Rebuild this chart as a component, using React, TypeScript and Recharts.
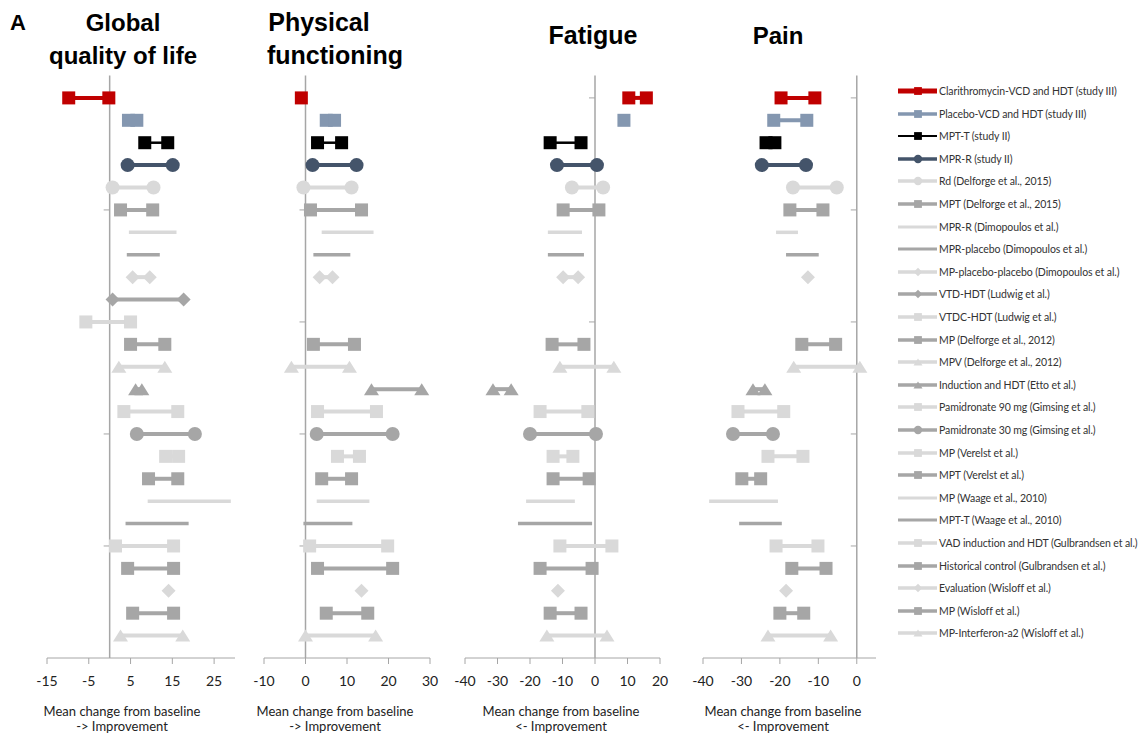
import React from 'react'
import { ScatterChart, Scatter, XAxis, YAxis, ReferenceLine } from 'recharts'

type Range = number[] | null
type Kind = 'square' | 'circle' | 'diamond' | 'triangle' | 'none'

const studies = [
  'Clarithromycin-VCD and HDT (study III)',
  'Placebo-VCD and HDT (study III)',
  'MPT-T (study II)',
  'MPR-R (study II)',
  'Rd (Delforge et al., 2015)',
  'MPT (Delforge et al., 2015)',
  'MPR-R (Dimopoulos et al.)',
  'MPR-placebo (Dimopoulos et al.)',
  'MP-placebo-placebo (Dimopoulos et al.)',
  'VTD-HDT (Ludwig et al.)',
  'VTDC-HDT (Ludwig et al.)',
  'MP (Delforge et al., 2012)',
  'MPV (Delforge et al., 2012)',
  'Induction and HDT (Etto et al.)',
  'Pamidronate 90 mg (Gimsing et al.)',
  'Pamidronate 30 mg (Gimsing et al.)',
  'MP (Verelst et al.)',
  'MPT (Verelst et al.)',
  'MP (Waage et al., 2010)',
  'MPT-T (Waage et al., 2010)',
  'VAD induction and HDT (Gulbrandsen et al.)',
  'Historical control (Gulbrandsen et al.)',
  'Evaluation (Wisloff et al.)',
  'MP (Wisloff et al.)',
  'MP-Interferon-a2 (Wisloff et al.)',
]

// mean change from baseline at start / end of each study arm
const globalQoL: Range[] = [
  [-9.8, -0.2], [4.5, 6.5], [8.4, 13.9], [4.3, 15.1], [0.7, 10.5],
  [2.6, 10.3], [4.6, 16], [4.1, 12], [5.5, 9.6], [0.7, 17.7],
  [-5.7, 5], [5, 13.2], [2.2, 13.2], [6.2, 7.7], [3.4, 16.3],
  [6.5, 20.4], [13.4, 16.5], [9.3, 16.3], [9.1, 29], [3.8, 18.9],
  [1.4, 15.3], [4.3, 15.3], [14.1], [5.5, 15.3], [2.6, 17.5],
]

const physical: Range[] = [
  [-1], [5, 7], [2.9, 8.7], [1.7, 12.3], [-0.5, 11.1],
  [1.2, 13.5], [3.9, 16.4], [1.9, 10.8], [3.4, 6.5], null,
  null, [1.9, 11.8], [-3.4, 10.6], [15.9, 28], [2.9, 17.1],
  [2.7, 21], [7.7, 13], [3.9, 11.1], [2.7, 15.4], [-0.5, 11.3],
  [1, 19.8], [2.9, 21], [13.5], [5, 15], [0, 16.9],
]

const fatigue: Range[] = [
  [10.4, 15.8], [8.9], [-13.8, -4.3], [-11.7, 0.6], [-7.1, 2.5],
  [-9.8, 1.2], [-14.5, -4], [-14.5, -3.4], [-9.8, -5.2], null,
  null, [-13.2, -3.4], [-10.8, 5.8], [-31.4, -25.8], [-16.9, -2.2],
  [-20, 0.3], [-12.9, -6.8], [-12.9, -1.8], [-21.2, -6.2], [-23.7, -0.9],
  [-10.8, 5.2], [-16.9, -0.9], [-11.4], [-13.8, -4.3], [-14.8, 3.7],
]

const pain: Range[] = [
  [-19.7, -10.9], [-21.6, -13], [-23.6, -21.3], [-24.7, -13.2], [-16.6, -5.2],
  [-17.4, -8.8], [-21, -15.3], [-18.4, -9.9], [-12.7], null,
  null, [-14.3, -5.5], [-16.4, 0.8], [-27, -23.9], [-30.9, -19],
  [-32.2, -21.8], [-23.1, -14], [-29.9, -25], [-38.4, -20.5], [-30.6, -19.5],
  [-21, -10.1], [-16.9, -8], [-18.4], [-20, -13.8], [-23.1, -6.8],
]

const qolTicks = [-15, -5, 5, 15, 25]
const physicalTicks = [-10, 0, 10, 20, 30]
const fatigueTicks = [-40, -30, -20, -10, 0, 10, 20]
const painTicks = [-40, -30, -20, -10, 0]
const rowTicks = [1, 6, 11, 16, 21]

const RED = '#C00000'
const BLUE = '#8497B0'
const NAVY = '#44546A'
const LIGHT = '#D9D9D9'
const MID = '#A6A6A6'

const kinds: Kind[] = [
  'square', 'square', 'square', 'circle', 'circle', 'square', 'none', 'none',
  'diamond', 'diamond', 'square', 'square', 'triangle', 'triangle', 'square',
  'circle', 'square', 'square', 'none', 'none', 'square', 'square', 'diamond',
  'square', 'triangle',
]
const colorOf = (i: number) =>
  i === 0 ? RED : i === 1 ? BLUE : i === 2 ? '#000' : i === 3 ? NAVY : i % 2 === 0 ? LIGHT : MID
const lineWidthOf = (i: number) => (i === 2 ? 2.5 : kinds[i] === 'none' ? 3.5 : 4)

const FONT = 'Lato, "Open Sans", sans-serif'
const Y_TOP = 75.5
const Y_AXIS = 658
const CHART_H = 700
const AXIS_H = 36

function Marker({ cx, cy, kind, color, s = 1 }: { cx?: number; cy?: number; kind: Kind; color: string; s?: number }) {
  if (cx == null || cy == null || kind === 'none') return <g />
  if (kind === 'square') {
    const h = 6.5 * s
    return <rect x={cx - h} y={cy - h} width={h * 2} height={h * 2} fill={color} />
  }
  if (kind === 'circle') return <circle cx={cx} cy={cy} r={7 * s} fill={color} />
  if (kind === 'diamond') {
    const h = 7 * s
    return <polygon points={`${cx},${cy - h} ${cx + h},${cy} ${cx},${cy + h} ${cx - h},${cy}`} fill={color} />
  }
  const w = 7.5 * s
  const h = 6 * s
  return <polygon points={`${cx},${cy - h} ${cx + w},${cy + h} ${cx - w},${cy + h}`} fill={color} />
}

interface PanelProps {
  data: Range[]
  domain: [number, number]
  ticks: number[]
  left: number
  width: number
  x0: number
  x1: number
}

function Panel({ data, domain, ticks, left, width, x0, x1 }: PanelProps) {
  const unitsPerPx = (domain[1] - domain[0]) / (x1 - x0)
  const tickLen = 6 * unitsPerPx
  return (
    <div style={{ position: 'absolute', left, top: 0 }}>
      <ScatterChart
        width={width}
        height={CHART_H}
        margin={{ top: Y_TOP, bottom: CHART_H - Y_AXIS - AXIS_H, left: x0 - left, right: left + width - x1 }}
      >
        <XAxis
          type="number"
          dataKey="x"
          domain={domain}
          ticks={ticks}
          allowDataOverflow
          height={AXIS_H}
          axisLine={{ stroke: '#A6A6A6' }}
          tickLine={{ stroke: '#A6A6A6' }}
          tickSize={6}
          tickMargin={12}
          tick={{ fill: '#222', fontSize: 14, fontFamily: FONT }}
        />
        <YAxis type="number" dataKey="y" domain={[0, 26]} reversed hide />
        <ReferenceLine x={0} stroke="#A6A6A6" strokeWidth={1.5} />
        {rowTicks.map((t) => (
          <ReferenceLine
            key={t}
            segment={[{ x: -tickLen, y: t }, { x: 0, y: t }]}
            stroke="#A6A6A6"
            strokeWidth={1}
          />
        ))}
        {data.map((range, i) =>
          range ? (
            <Scatter
              key={i}
              data={range.map((v) => ({ x: v, y: i + 1 }))}
              line={{ stroke: colorOf(i), strokeWidth: lineWidthOf(i) }}
              lineType="joint"
              isAnimationActive={false}
              shape={(p: any) => <Marker cx={p.cx} cy={p.cy} kind={kinds[i]} color={colorOf(i)} />}
            />
          ) : null,
        )}
      </ScatterChart>
    </div>
  )
}

function Legend() {
  return (
    <div style={{ position: 'absolute', left: 897, top: 0 }}>
      {studies.map((name, i) => (
        <div
          key={name}
          style={{ position: 'absolute', top: 91 + i * 22.6 - 8, left: 0, height: 16, display: 'flex', alignItems: 'center', whiteSpace: 'nowrap' }}
        >
          <svg width={41} height={16}>
            <line x1={1} x2={40} y1={8} y2={8} stroke={colorOf(i)} strokeWidth={i === 0 ? 5 : lineWidthOf(i) - 0.5} />
            <Marker cx={21} cy={8} kind={kinds[i]} color={colorOf(i)} s={0.6} />
          </svg>
          <span style={{ fontFamily: FONT, fontSize: 10.5, letterSpacing: -0.1, color: '#333', marginLeft: 1 }}>{name}</span>
        </div>
      ))}
    </div>
  )
}

const titleStyle: React.CSSProperties = {
  position: 'absolute',
  fontFamily: '"Liberation Sans", Arial, sans-serif',
  fontWeight: 700,
  fontSize: 24,
  lineHeight: '33px',
  textAlign: 'center',
  color: '#000',
  whiteSpace: 'nowrap',
}

function Title({ text, cx, cy, size = 24 }: { text: string; cx: number; cy: number; size?: number }) {
  return <div style={{ ...titleStyle, fontSize: size, left: cx - 120, width: 240, top: cy - 16.5 }}>{text}</div>
}

function Caption({ cx, arrow }: { cx: number; arrow: string }) {
  return (
    <div
      style={{
        position: 'absolute', left: cx - 100, width: 200, top: 704, textAlign: 'center',
        fontFamily: FONT, fontSize: 13, lineHeight: '15px', color: '#222',
      }}
    >
      Mean change from baseline
      <br />
      {arrow} Improvement
    </div>
  )
}

export default function App() {
  return (
    <div style={{ position: 'fixed', left: 0, top: 0, width: 1144, height: 737, overflow: 'hidden', background: '#fff' }}>
      <div style={{ ...titleStyle, left: 10, top: 6, fontSize: 22 }}>A</div>
      <Title text="Global" cx={123} cy={22} />
      <Title text="quality of life" cx={123} cy={55} />
      <Title text="Physical" cx={319} cy={22} size={25} />
      <Title text="functioning" cx={335} cy={55} size={25} />
      <Title text="Fatigue" cx={593} cy={35} size={25} />
      <Title text="Pain" cx={778} cy={35} />

      <Panel data={globalQoL} domain={[-15, 30]} ticks={qolTicks} left={0} width={250} x0={47} x1={235} />
      <Panel data={physical} domain={[-10, 30]} ticks={physicalTicks} left={250} width={195} x0={264} x1={430} />
      <Panel data={fatigue} domain={[-40, 20]} ticks={fatigueTicks} left={445} width={230} x0={465} x1={660} />
      <Panel data={pain} domain={[-40, 5]} ticks={painTicks} left={680} width={210} x0={703} x1={876} />

      <Caption cx={122} arrow="->" />
      <Caption cx={335} arrow="->" />
      <Caption cx={561} arrow="<-" />
      <Caption cx={783} arrow="<-" />

      <Legend />
    </div>
  )
}
